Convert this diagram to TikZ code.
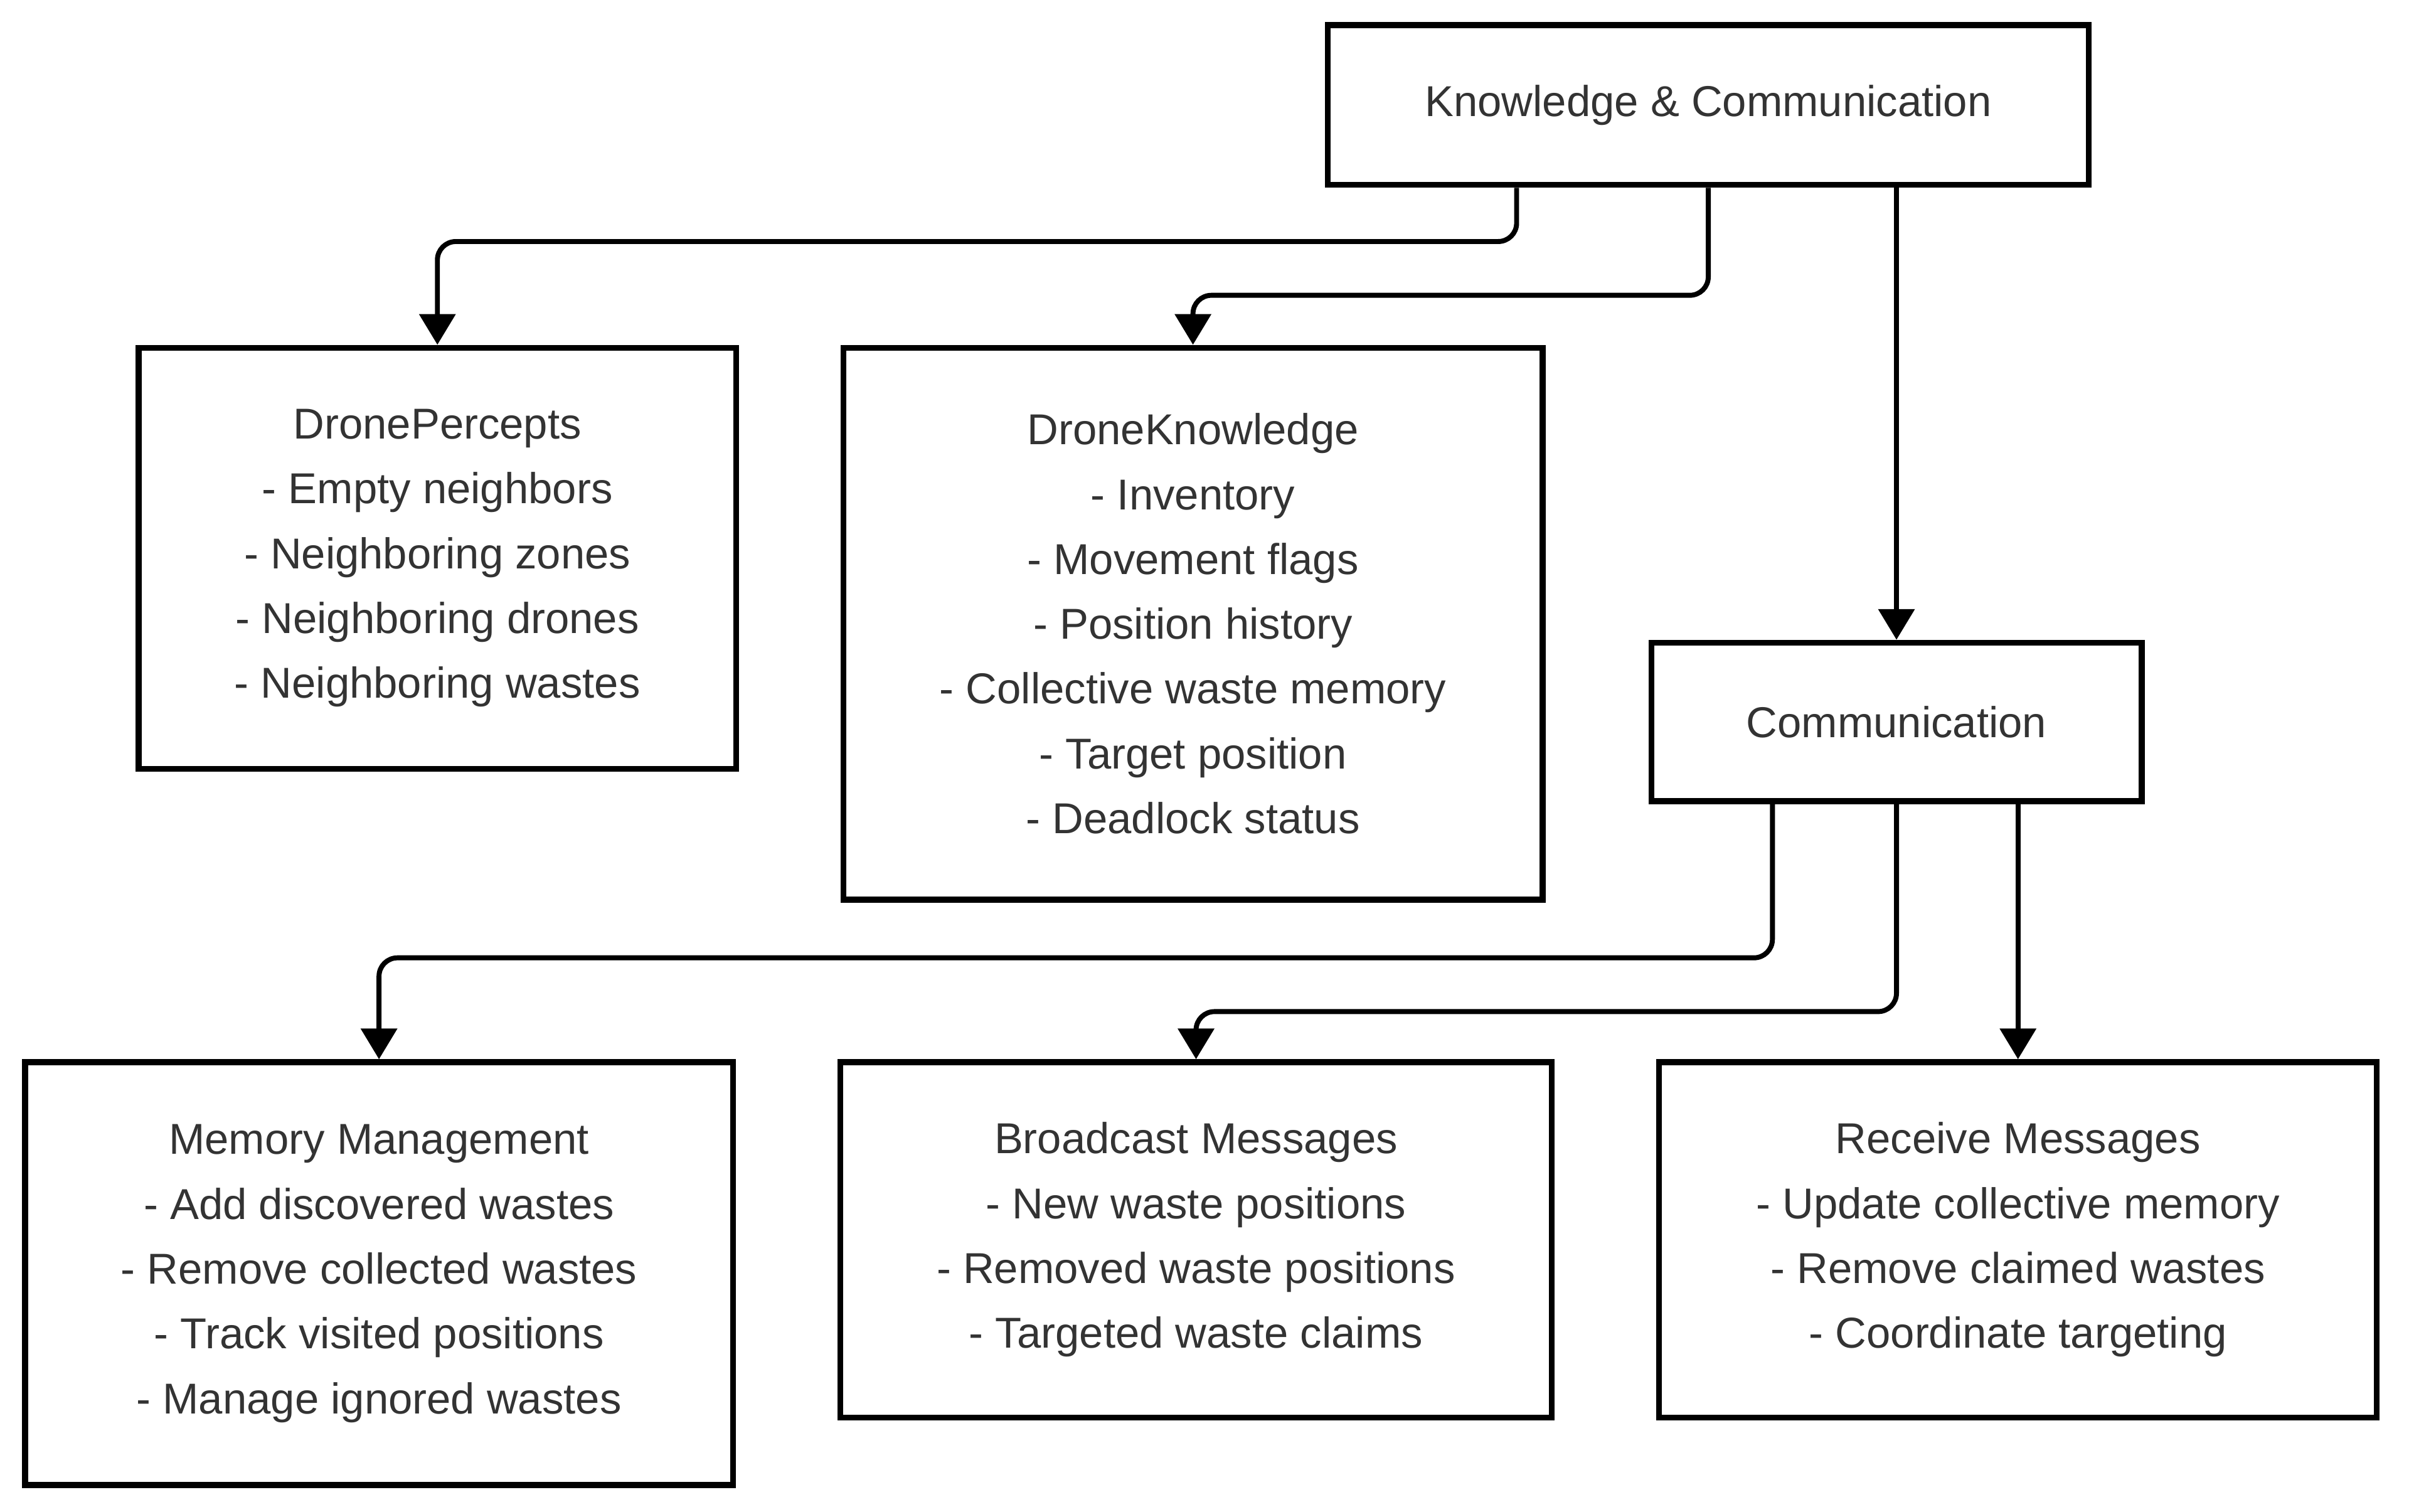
\documentclass[tikz,border=0pt]{standalone}
\usepackage{fontspec}
\setmainfont{Liberation Sans}
\usetikzlibrary{shapes,arrows.meta,positioning,calc}
\definecolor{ink}{HTML}{333333}
\def\Root{Knowledge \& Communication}

\begin{document}
\begin{tikzpicture}[% styles for all boxes and connectors
			every node/.style={
				align=center,  		% so that "\\" breaks the line
				inner sep=0pt,
				text=ink,
				font=\fontsize{10}{15}\selectfont
			},
			box/.style={rectangle,draw=black,line width=1.35pt,fill=white},
			flow/.style={->,draw=black,line width=1.15pt,rounded corners=0.15cm},
			>={Triangle[length=0.25cm,width=0.29cm]},
			node distance=0.825cm
		]
		\useasboundingbox (0,0) rectangle (19.6,-12.3);
		\node[box,minimum width=6.19cm,minimum height=1.30cm,anchor=north west](R1) at (10.78,-0.18){\Root};
		\node[box,minimum width=4.86cm,minimum height=3.425cm,anchor=north west](R2) at (1.105,-2.805){DronePercepts \\ - Empty neighbors \\ - Neighboring zones \\ - Neighboring drones \\ - Neighboring wastes};
		\node[box,minimum width=5.69cm,minimum height=4.49cm](R3)[right= of R2.north east,anchor=north west]{DroneKnowledge \\ - Inventory \\ - Movement flags \\ - Position history \\ - Collective waste memory \\ - Target position \\ - Deadlock status};
		\node[box,minimum width=3.99cm,minimum height=1.29cm,anchor=north](R4) at (15.43,-5.205){Communication};
		\node[box,minimum width=5.76cm,minimum height=3.44cm,anchor=north west](R5) at (0.18,-8.6175){Memory Management \\ - Add discovered wastes \\ - Remove collected wastes \\ - Track visited positions \\ - Manage ignored wastes};
		\node[box,minimum width=5.79cm,minimum height=2.89cm](R6)[right= of R5.north east,anchor=north west]{Broadcast Messages \\ - New waste positions \\ - Removed waste positions \\ - Targeted waste claims};
		\node[box,minimum width=5.84cm,minimum height=2.89cm](R7)[right= of R6.north east,anchor=north west]{Receive Messages \\ - Update collective memory \\ - Remove claimed wastes \\ - Coordinate targeting};
		% connectors
		\draw[flow] ($(R1.south west)!.25!(R1.south east)$) -- ++(0,-0.4375) -| (R2.north);
		\draw[flow] (R1.south) -- ++(0,-0.875) -| (R3.north);
		\draw[flow] (R4.north |- R1.south) -- (R4.north);
		\draw[flow] ($(R4.south west)!.25!(R4.south east)$) -- ++(0,-1.25) -| (R5.north);
		\draw[flow] (R4.south) -- ++(0,-1.6875) -| (R6.north);
		\draw[flow] (R7.north |- R4.south) -- (R7.north);
	\end{tikzpicture}
\end{document}
